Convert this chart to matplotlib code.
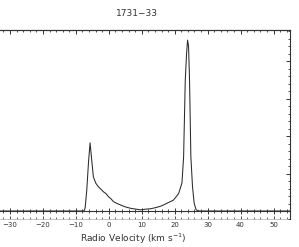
import matplotlib.pyplot as plt
from matplotlib.ticker import MultipleLocator, FixedLocator

# spectrum (velocity in km/s, arbitrary flux units)
vel = [-40, -10, -8.0, -7.5, -7.2, -6.7, -6.2, -5.7, -5.2, -4.7, -3.95, -3.2, -2.4,
       -1.6, -0.8, -0.1, 0.6, 1.4, 2.5, 3.6, 5.0, 6.7, 8.2, 9.7, 11.2, 12.7,
       14.2, 15.8, 17.5, 19.6, 20.8, 21.2, 22.2, 22.7, 23.2, 23.6, 23.9, 24.2,
       24.5, 24.9, 25.4, 25.9, 26.5, 27.5, 30, 55]
flux = [0, 0, 0.0, 0.01, 0.08, 0.56, 1.27, 1.82, 1.36, 0.91, 0.74, 0.65, 0.58,
        0.51, 0.46, 0.38, 0.33, 0.25, 0.20, 0.16, 0.11, 0.07, 0.05, 0.03, 0.05, 0.06,
        0.09, 0.13, 0.20, 0.29, 0.42, 0.47, 0.75, 1.45, 3.49, 4.2, 4.56, 4.4,
        3.49, 1.45, 0.65, 0.21, 0.03, 0.0, 0, 0]
vticks = [-30, -20, -10, 0, 10, 20, 30, 40, 50]

title = "1731\u221233"
xlabel = "Radio Velocity (km s$^{-1}$)"

ink = "#333333"
fig = plt.figure(figsize=(2.99, 2.47), dpi=100)
ax = fig.add_axes([-0.0766, 0.1134, 1.0465, 0.7652])
ax.plot(vel, flux, color="#2a2a2a", lw=0.75)
ax.set_xlim(-40, 55)
ax.set_ylim(-0.213, 4.83)

# zero line carries the crossing ticks
ax.spines["left"].set_visible(False)
ax.spines["bottom"].set_position(("data", 0))
for s in ("bottom", "top", "right"):
    ax.spines[s].set_color(ink)
    ax.spines[s].set_linewidth(0.8)
ax.xaxis.set_major_locator(MultipleLocator(10))
ax.xaxis.set_minor_locator(MultipleLocator(2))
ax.tick_params(axis="x", which="major", direction="inout", length=5, width=0.7,
               color=ink, labelbottom=False, top=False)
ax.tick_params(axis="x", which="minor", direction="inout", length=3, width=0.6,
               color=ink, top=False)

ax.yaxis.tick_right()
ax.yaxis.set_major_locator(MultipleLocator(1))
ax.yaxis.set_minor_locator(MultipleLocator(0.2))
ax.tick_params(axis="y", which="major", direction="in", length=3, width=0.7,
               color=ink, labelright=False, left=False)
ax.tick_params(axis="y", which="minor", direction="in", length=1.5, width=0.6,
               color=ink, left=False)

top = ax.secondary_xaxis("top")
top.xaxis.set_major_locator(MultipleLocator(10))
top.xaxis.set_minor_locator(MultipleLocator(2))
top.tick_params(which="major", direction="in", length=3, width=0.7, color=ink,
                labeltop=False)
top.tick_params(which="minor", direction="in", length=1.5, width=0.6, color=ink)
top.spines["top"].set_color(ink)

bot = ax.secondary_xaxis(0.0)
bot.xaxis.set_major_locator(FixedLocator(vticks))
bot.xaxis.set_minor_locator(MultipleLocator(2))
bot.tick_params(which="major", direction="in", length=2, width=0.6, color=ink,
                labelsize=5, labelcolor=ink, pad=2.5)
bot.tick_params(which="minor", direction="in", length=1.5, width=0.5, color=ink)
bot.spines["bottom"].set_color("#aaaaaa")
bot.spines["bottom"].set_linewidth(0.5)
bot.set_xlabel(xlabel, fontsize=6.5, color=ink, labelpad=2)

fig.text(137 / 299, 1 - 13 / 247, title, fontsize=6.5, color=ink,
         ha="center", va="center")

fig.savefig("out.png", dpi=100)
